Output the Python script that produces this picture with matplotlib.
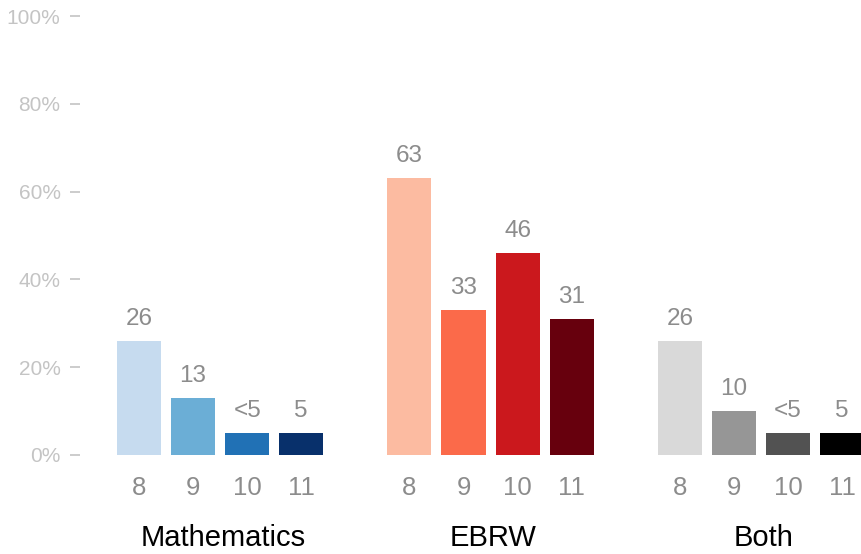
import matplotlib
matplotlib.use("Agg")
import matplotlib.pyplot as plt
import matplotlib.transforms as mtransforms

plt.rcParams['font.family'] = ['Liberation Sans', 'DejaVu Sans']

# data
subjects = ['Mathematics', 'EBRW', 'Both']
grades = ['8', '9', '10', '11']
math_vals = [26, 13, 5, 5]
ebrw_vals = [63, 33, 46, 31]
both_vals = [26, 10, 5, 5]
math_labels = ['26', '13', '<5', '5']
ebrw_labels = ['63', '33', '46', '31']
both_labels = ['26', '10', '<5', '5']

math_colors = ['#c6dbef', '#6baed6', '#2171b5', '#08306b']
ebrw_colors = ['#fcbba1', '#fb6a4a', '#cb181d', '#67000d']
both_colors = ['#d9d9d9', '#969696', '#525252', '#000000']

fig = plt.figure(figsize=(8.61, 5.54), dpi=100)
ax = fig.add_axes([80 / 861, 99 / 554, 1 - 80 / 861, 439 / 554])

series = [(math_vals, math_labels, math_colors),
          (ebrw_vals, ebrw_labels, ebrw_colors),
          (both_vals, both_labels, both_colors)]

positions = []
tick_labels = []
for g, (vals, labs, cols) in enumerate(series):
    xs = [g * 5 + i for i in range(len(vals))]
    ax.bar(xs, vals, width=0.815, color=cols)
    for x, v, lab in zip(xs, vals, labs):
        ax.annotate(lab, (x, v), xytext=(0, 8), textcoords='offset points',
                    ha='center', va='bottom', fontsize=17.5, color='#8c8c8c')
    positions += xs
    tick_labels += grades
    trans = mtransforms.blended_transform_factory(ax.transData, ax.transAxes)
    ax.text(g * 5 + 1.55, -0.188, subjects[g], transform=trans, ha='center',
            va='center', fontsize=21, color='black')

ax.set_xlim(-1.09, 13.35)
ax.set_ylim(0, 100)
ax.set_xticks(positions)
ax.set_xticklabels(tick_labels, fontsize=18.5, color='#8c8c8c')
ax.tick_params(axis='x', length=0, pad=15)
ax.set_yticks(range(0, 101, 20))
ax.set_yticklabels([f'{v}%' for v in range(0, 101, 20)], fontsize=15, color='#c4c4c4')
ax.tick_params(axis='y', length=7, width=1.2, color='#c4c4c4', pad=7)
for s in ax.spines.values():
    s.set_visible(False)

fig.savefig('out.png', dpi=100)
